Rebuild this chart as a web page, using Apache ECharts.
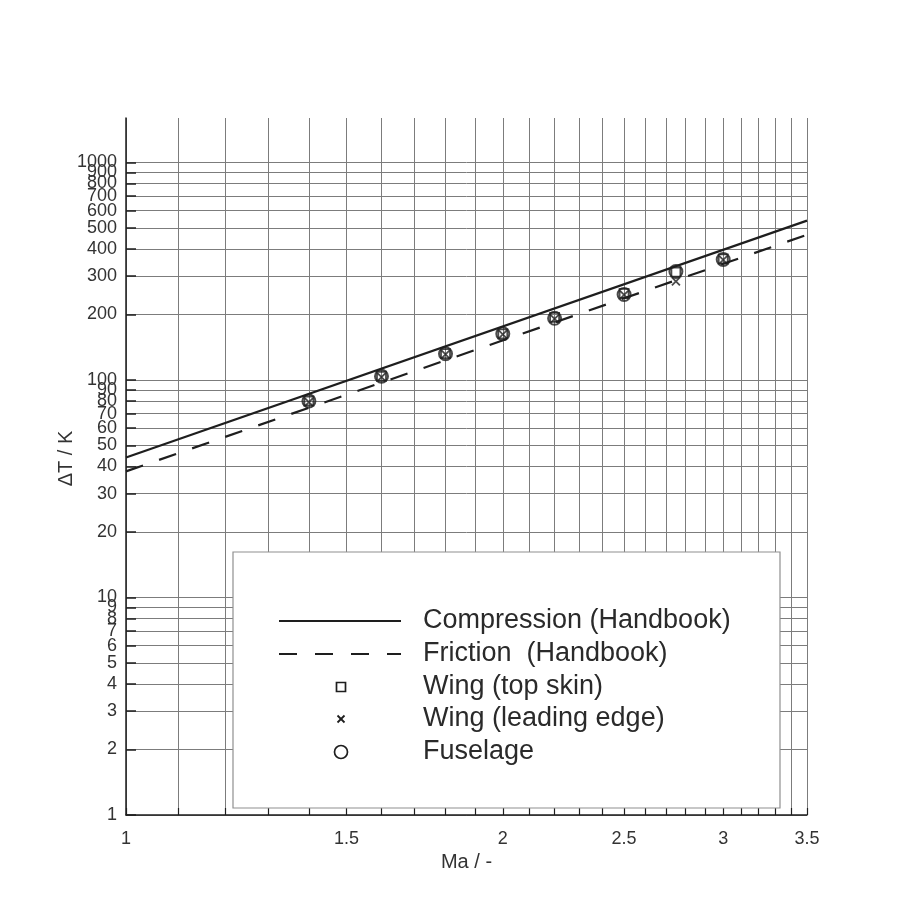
<!DOCTYPE html>
<html>
<head>
<meta charset="utf-8">
<script src="https://cdn.jsdelivr.net/npm/echarts@6/dist/echarts.min.js"></script>
<style>
html,body{margin:0;padding:0;background:#fff;}
#chart{width:904px;height:906px;}
</style>
</head>
<body>
<div id="chart"></div>
<script>
// ---- data ----
const machLabels = [1, 1.5, 2, 2.5, 3, 3.5];
const machGrid = [1, 1.1, 1.2, 1.3, 1.4, 1.5, 1.6, 1.7, 1.8, 1.9, 2, 2.1, 2.2, 2.3, 2.4, 2.5, 2.6, 2.7, 2.8, 2.9, 3, 3.1, 3.2, 3.3, 3.4, 3.5];
const dTempTicks = [1, 2, 3, 4, 5, 6, 7, 8, 9, 10, 20, 30, 40, 50, 60, 70, 80, 90, 100, 200, 300, 400, 500, 600, 700, 800, 900, 1000];

const handbookMa = [1, 3.5];
const compression = [44, 540];
const friction = [38, 465];

const testMa = [1.4, 1.6, 1.8, 2.0, 2.2, 2.5, 2.75, 3.0];
const wingTopSkin = [80, 104, 132, 163, 194, 250, 313, 360];
const wingLeadingEdge = [79, 103, 131, 162, 191, 246, 284, 356];
const fuselage = [80, 104, 132, 163, 192, 247, 315, 358];

const seriesNames = ['Compression (Handbook)', 'Friction  (Handbook)', 'Wing (top skin)', 'Wing (leading edge)', 'Fuselage'];

// ---- helpers ----
const pairs = (xs, ys) => xs.map((x, i) => [x, ys[i]]);
const INK = '#1e1e1e';
const GRID = '#7c7c7c';
const FONT = 'Liberation Sans, Arial, Helvetica, sans-serif';
const X_PATH = 'path://M0,0L10,10M10,0L0,10';
const Y_MAX = 1600;

const chart = echarts.init(document.getElementById('chart'), null, {renderer: 'canvas'});

const legendLeft = 233, legendTop = 552, legendW = 547, legendH = 256;
const rowY = [621, 654, 687, 719, 752];
const iconX0 = 279, iconX1 = 401, iconCx = 341, textX = 423;
const ZL = 100;

const legendEls = [
  {type: 'rect', z: ZL, shape: {x: legendLeft, y: legendTop, width: legendW, height: legendH},
   style: {fill: '#fff', stroke: '#8f8f8f', lineWidth: 1.2}},
  {type: 'line', z: ZL + 1, shape: {x1: iconX0, y1: rowY[0], x2: iconX1, y2: rowY[0]}, style: {stroke: INK, lineWidth: 2.2}},
  {type: 'line', z: ZL + 1, shape: {x1: iconX0, y1: rowY[1], x2: iconX1, y2: rowY[1]}, style: {stroke: INK, lineWidth: 2.2, lineDash: [18, 18]}},
  {type: 'rect', z: ZL + 1, shape: {x: iconCx - 4.5, y: rowY[2] - 4.5, width: 9, height: 9}, style: {fill: 'none', stroke: INK, lineWidth: 1.7}},
  {type: 'polyline', z: ZL + 1, shape: {points: [[iconCx - 3.5, rowY[3] - 3.5], [iconCx + 3.5, rowY[3] + 3.5]]}, style: {stroke: INK, lineWidth: 1.8}},
  {type: 'polyline', z: ZL + 1, shape: {points: [[iconCx + 3.5, rowY[3] - 3.5], [iconCx - 3.5, rowY[3] + 3.5]]}, style: {stroke: INK, lineWidth: 1.8}},
  {type: 'circle', z: ZL + 1, shape: {cx: iconCx, cy: rowY[4], r: 6.5}, style: {fill: 'none', stroke: INK, lineWidth: 1.7}}
].concat(seriesNames.map((n, i) => ({
  type: 'text', z: ZL + 1, x: textX, y: rowY[i],
  style: {text: n, fill: '#2a2a2a', font: '27px ' + FONT, textVerticalAlign: 'middle', textAlign: 'left'}
})));

const option = {
  backgroundColor: '#fff',
  animation: false,
  grid: {left: 126, right: 97, top: 118, bottom: 91, containLabel: false},
  xAxis: {
    type: 'log', logBase: 10, min: 1, max: 3.5,
    name: 'Ma / -', nameLocation: 'middle', nameGap: 35,
    nameTextStyle: {fontFamily: FONT, fontSize: 20, color: '#333'},
    axisLine: {show: true, onZero: false, lineStyle: {color: INK, width: 1.5}},
    axisTick: {show: true, inside: true, length: 7, customValues: machGrid, lineStyle: {color: INK, width: 1.2}},
    axisLabel: {customValues: machLabels, showMinLabel: true, showMaxLabel: true, fontFamily: FONT, fontSize: 18, color: '#333', margin: 15,
      formatter: v => String(v)},
    splitLine: {show: true, lineStyle: {color: GRID, width: 1}},
    minorTick: {show: false}, minorSplitLine: {show: false}
  },
  yAxis: {
    type: 'log', logBase: 10, min: 1, max: Y_MAX,
    name: 'ΔT / K', nameLocation: 'middle', nameGap: 50, nameRotate: 90, nameMoveOverlap: false,
    nameTextStyle: {fontFamily: FONT, fontSize: 20, color: '#333', padding: [0, 0, 0, 16]},
    axisLine: {show: true, onZero: false, lineStyle: {color: INK, width: 1.5}},
    axisTick: {show: true, inside: true, length: 10, customValues: dTempTicks, lineStyle: {color: INK, width: 1.5}},
    axisLabel: {
      // the axis end gets an empty label so that no real label is dropped as an "overlapping end label"
      customValues: dTempTicks.concat([Y_MAX]),
      showMinLabel: true, showMaxLabel: true, hideOverlap: false,
      fontFamily: FONT, fontSize: 18, color: '#333', margin: 9,
      formatter: v => (dTempTicks.indexOf(Math.round(v)) >= 0 ? String(Math.round(v)) : '')},
    splitLine: {show: true, lineStyle: {color: GRID, width: 1}},
    minorTick: {show: false}, minorSplitLine: {show: false}
  },
  series: [
    {name: seriesNames[0], type: 'line', data: pairs(handbookMa, compression), symbol: 'none', showSymbol: false,
     lineStyle: {color: INK, width: 2.2}, z: 3},
    {name: seriesNames[1], type: 'line', data: pairs(handbookMa, friction), symbol: 'none', showSymbol: false,
     lineStyle: {color: INK, width: 2.2, type: [18, 17]}, z: 3},
    {name: seriesNames[2], type: 'scatter', data: pairs(testMa, wingTopSkin), symbol: 'rect', symbolSize: 9,
     itemStyle: {color: 'rgba(0,0,0,0)', borderColor: INK, borderWidth: 1.8}, z: 4},
    {name: seriesNames[3], type: 'scatter', data: pairs(testMa, wingLeadingEdge), symbol: X_PATH, symbolSize: 8,
     itemStyle: {color: 'rgba(0,0,0,0)', borderColor: INK, borderWidth: 1.8}, z: 4},
    {name: seriesNames[4], type: 'scatter', data: pairs(testMa, fuselage), symbol: 'circle', symbolSize: 13,
     itemStyle: {color: 'rgba(0,0,0,0)', borderColor: INK, borderWidth: 2}, z: 4}
  ],
  graphic: {elements: legendEls}
};

chart.setOption(option);
</script>
</body>
</html>
